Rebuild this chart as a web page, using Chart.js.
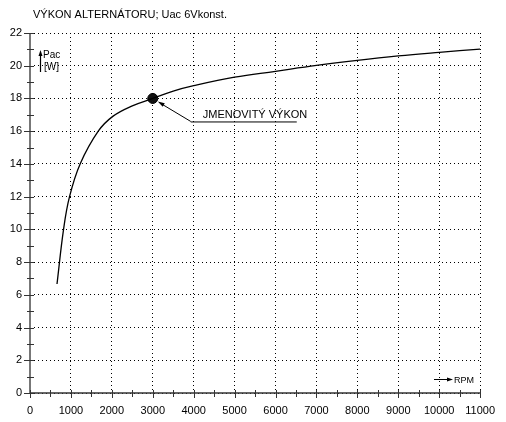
<!DOCTYPE html>
<html>
<head>
<meta charset="utf-8">
<script src="https://cdn.jsdelivr.net/npm/chart.js@4.4.1/dist/chart.umd.min.js"></script>
<style>
  html, body { margin: 0; padding: 0; background: #fff; }
  #wrap { width: 506px; height: 422px; }
</style>
</head>
<body>
<div id="wrap"><canvas id="chart" width="506" height="422"></canvas></div>
<script>
// data
const rpm = [660, 820, 966, 1225, 1668, 2031, 2500, 3000, 3500, 4000, 5000, 6000, 7000, 8000, 9000, 10000, 11000];
const pac = [6.66, 10.0, 12.0, 14.0, 16.0, 16.92, 17.55, 18.0, 18.45, 18.78, 19.3, 19.66, 20.02, 20.33, 20.6, 20.82, 21.02];
const ratedRpm = 3000;
const ratedPac = 18;

const titleText = 'VÝKON ALTERNÁTORU; Uac 6Vkonst.';
const ratedText = 'JMENOVITÝ VÝKON';
const yName = ['Pac', '[W]'];
const xName = 'RPM';

const FONT = "'Liberation Sans', Arial, sans-serif";

function arrowHead(ctx, x1, y1, x2, y2, len, w) {
  const a = Math.atan2(y2 - y1, x2 - x1);
  ctx.beginPath();
  ctx.moveTo(x2, y2);
  ctx.lineTo(x2 - len * Math.cos(a) + w * Math.sin(a), y2 - len * Math.sin(a) - w * Math.cos(a));
  ctx.lineTo(x2 - len * Math.cos(a) - w * Math.sin(a), y2 - len * Math.sin(a) + w * Math.cos(a));
  ctx.closePath();
  ctx.fill();
}

const decor = {
  id: 'decor',
  afterDraw(chart) {
    const ctx = chart.ctx;
    const x = chart.scales.x, y = chart.scales.y;
    const x0 = x.getPixelForValue(0), x1 = x.getPixelForValue(11000);
    const y0 = y.getPixelForValue(0), y1 = y.getPixelForValue(22);
    ctx.save();

    // axes
    ctx.strokeStyle = '#777';
    ctx.lineWidth = 2;
    ctx.beginPath();
    ctx.moveTo(x0, y1); ctx.lineTo(x0, y0);
    ctx.stroke();
    ctx.strokeStyle = '#333';
    ctx.lineWidth = 1.5;
    ctx.beginPath();
    ctx.moveTo(x0, y0); ctx.lineTo(x1, y0);
    ctx.stroke();

    // tick marks
    ctx.strokeStyle = '#333';
    ctx.lineWidth = 1;
    ctx.beginPath();
    for (let v = 0; v <= 22; v += 1) {
      const py = Math.round(y.getPixelForValue(v)) + 0.5;
      const major = v % 2 === 0;
      ctx.moveTo(x0 - (major ? 6 : 3), py);
      ctx.lineTo(x0 + 4, py);
    }
    for (let v = 0; v <= 11000; v += 500) {
      const px = Math.round(x.getPixelForValue(v)) + 0.5;
      const major = v % 1000 === 0;
      ctx.moveTo(px, y0 - 3);
      ctx.lineTo(px, y0 + (major ? 5 : 4));
    }
    ctx.stroke();

    // title
    ctx.fillStyle = '#000';
    ctx.font = '11px ' + FONT;
    ctx.textBaseline = 'alphabetic';
    ctx.textAlign = 'left';
    ctx.fillText(titleText, 33, 18);

    // y axis name
    ctx.strokeStyle = '#000';
    ctx.lineWidth = 1.2;
    ctx.beginPath();
    ctx.moveTo(40.5, 72); ctx.lineTo(40.5, 54);
    ctx.stroke();
    arrowHead(ctx, 40.5, 72, 40.5, 50, 6, 2);
    ctx.font = '10px ' + FONT;
    ctx.fillText(yName[0], 43, 58);
    ctx.fillText(yName[1], 44, 70);

    // x axis name
    ctx.lineWidth = 1;
    ctx.beginPath();
    ctx.moveTo(434, 379.5); ctx.lineTo(448, 379.5);
    ctx.stroke();
    arrowHead(ctx, 434, 379.5, 453, 379.5, 6, 2);
    ctx.font = '9px ' + FONT;
    ctx.fillText(xName, 454, 383);

    // rated power annotation
    const px = x.getPixelForValue(ratedRpm), py = y.getPixelForValue(ratedPac);
    const ex = px + 38, ey = py + 23;
    ctx.beginPath();
    ctx.moveTo(ex, ey); ctx.lineTo(px + 8, py + 5);
    ctx.moveTo(ex, ey + 0.5); ctx.lineTo(px + 144, ey + 0.5);
    ctx.stroke();
    arrowHead(ctx, ex, ey, px + 5, py + 3, 7, 2);
    ctx.font = '11px ' + FONT;
    ctx.fillText(ratedText, px + 50, py + 20);

    ctx.restore();
  }
};

const gridOpts = { color: '#000', lineWidth: 1, drawTicks: false };

new Chart(document.getElementById('chart'), {
  type: 'scatter',
  data: {
    datasets: [
      {
        data: rpm.map((r, i) => ({ x: r, y: pac[i] })),
        showLine: true,
        borderColor: '#000',
        borderWidth: 1.3,
        pointRadius: 0,
        tension: 0.4
      },
      {
        data: [{ x: ratedRpm, y: ratedPac }],
        pointRadius: 5,
        pointBackgroundColor: '#111',
        pointBorderColor: '#000',
        pointBorderWidth: 1
      }
    ]
  },
  options: {
    responsive: false,
    animation: false,
    devicePixelRatio: 1,
    layout: { padding: { top: 33, right: 21, left: 0, bottom: 0 } },
    plugins: { legend: { display: false }, tooltip: { enabled: false } },
    scales: {
      x: {
        type: 'linear',
        min: 0, max: 11000,
        grid: gridOpts,
        border: { display: false, dash: [1, 3] },
        afterFit: s => { s.height = 29; },
        ticks: {
          stepSize: 1000, padding: 11, maxRotation: 0, autoSkip: false,
          color: '#000', font: { family: FONT, size: 11 },
          callback: v => String(v)
        }
      },
      y: {
        min: 0, max: 22,
        grid: gridOpts,
        border: { display: false, dash: [1, 3] },
        afterFit: s => { s.width = 30; },
        ticks: {
          stepSize: 2, padding: 8,
          color: '#000', font: { family: FONT, size: 11 },
          callback: v => String(v)
        }
      }
    }
  },
  plugins: [decor]
});
</script>
</body>
</html>
